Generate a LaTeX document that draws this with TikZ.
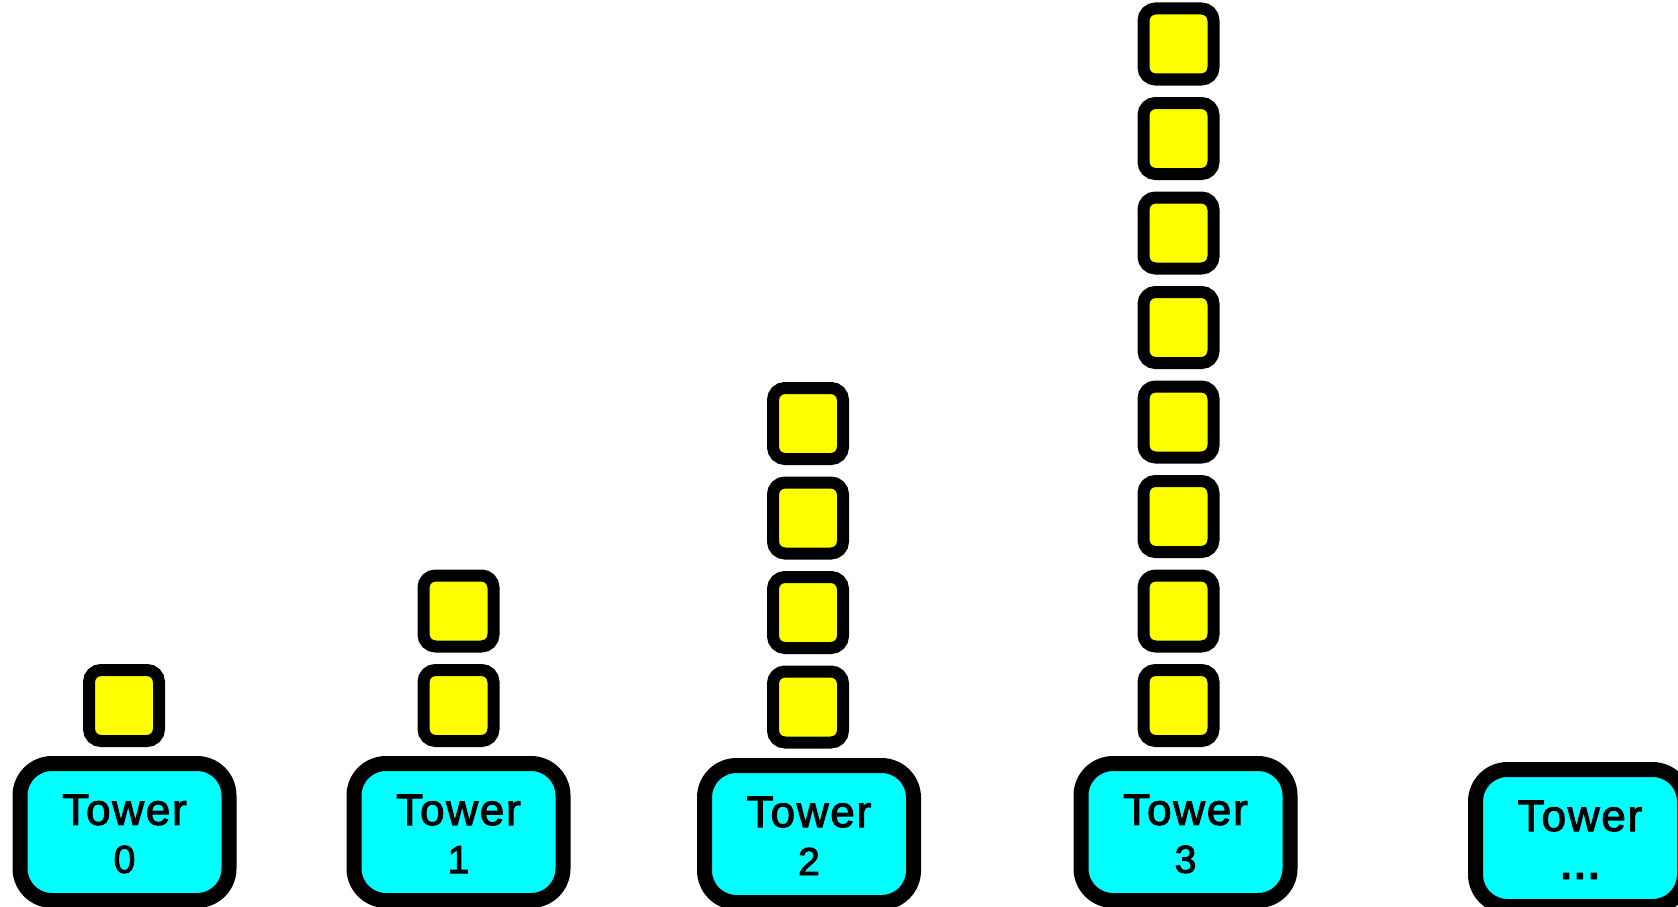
\documentclass[tikz,border=0pt]{standalone}
\usepackage{fontspec}
\setmainfont{Liberation Sans}
\newfontfamily\labelfont[FakeBold=2.5, LetterSpace=4]{Liberation Sans}
\usetikzlibrary{shadows.blur}

\definecolor{towerfill}{RGB}{0,255,255}
\definecolor{blockfill}{RGB}{255,255,0}

\tikzset{
  towerbox/.style={
    rectangle, rounded corners=32pt, draw=black, line width=15pt,
    fill=towerfill, minimum width=209pt, minimum height=137pt,
    inner sep=0pt, align=center, font=\labelfont\fontsize{44}{48}\selectfont,
    blur shadow={shadow xshift=3pt, shadow yshift=-3pt,
                 shadow blur radius=4pt, shadow opacity=45}},
  blockbox/.style={
    rectangle, rounded corners=12pt, draw=black, line width=12pt,
    fill=blockfill, minimum width=70pt, minimum height=71pt, inner sep=0pt,
    blur shadow={shadow xshift=1.5pt, shadow yshift=-1.5pt,
                 shadow blur radius=2pt, shadow opacity=25}}
}
% two-line label: word above, slightly smaller index below
\newcommand{\towerlabel}[1]{\rule{0pt}{34pt}Tower\\{\fontsize{39}{48}\selectfont #1}}
\newcommand{\moredots}{{\bfseries .\hspace{3pt}.\hspace{3pt}.}}

\begin{document}
\begin{tikzpicture}[x=1pt, y=-1pt]
\useasboundingbox (0,0) rectangle (1678,907);

% stacks of blocks: tower n holds 2^n blocks
\node[blockbox] (b0-0) at (124, 705.5) {};
\foreach \k in {0,1}
  \node[blockbox] (b1-\k) at (458.5, {705.5-94.5*\k}) {};
\foreach \k in {0,...,3}
  \node[blockbox] (b2-\k) at (808, {707-94.5*\k}) {};
\foreach \k in {0,...,7}
  \node[blockbox] (b3-\k) at (1178.5, {705.5-94.5*\k}) {};

% tower labels
\node[towerbox] (t0) at (124.5, 832)  {\towerlabel{0}};
\node[towerbox] (t1) at (458.5, 832)  {\towerlabel{1}};
\node[towerbox] (t2) at (809, 834)    {\towerlabel{2}};
\node[towerbox] (t3) at (1185.5, 832) {\towerlabel{3}};
\node[towerbox] (t4) at (1580, 838)   {\towerlabel{\moredots}};
\end{tikzpicture}
\end{document}
